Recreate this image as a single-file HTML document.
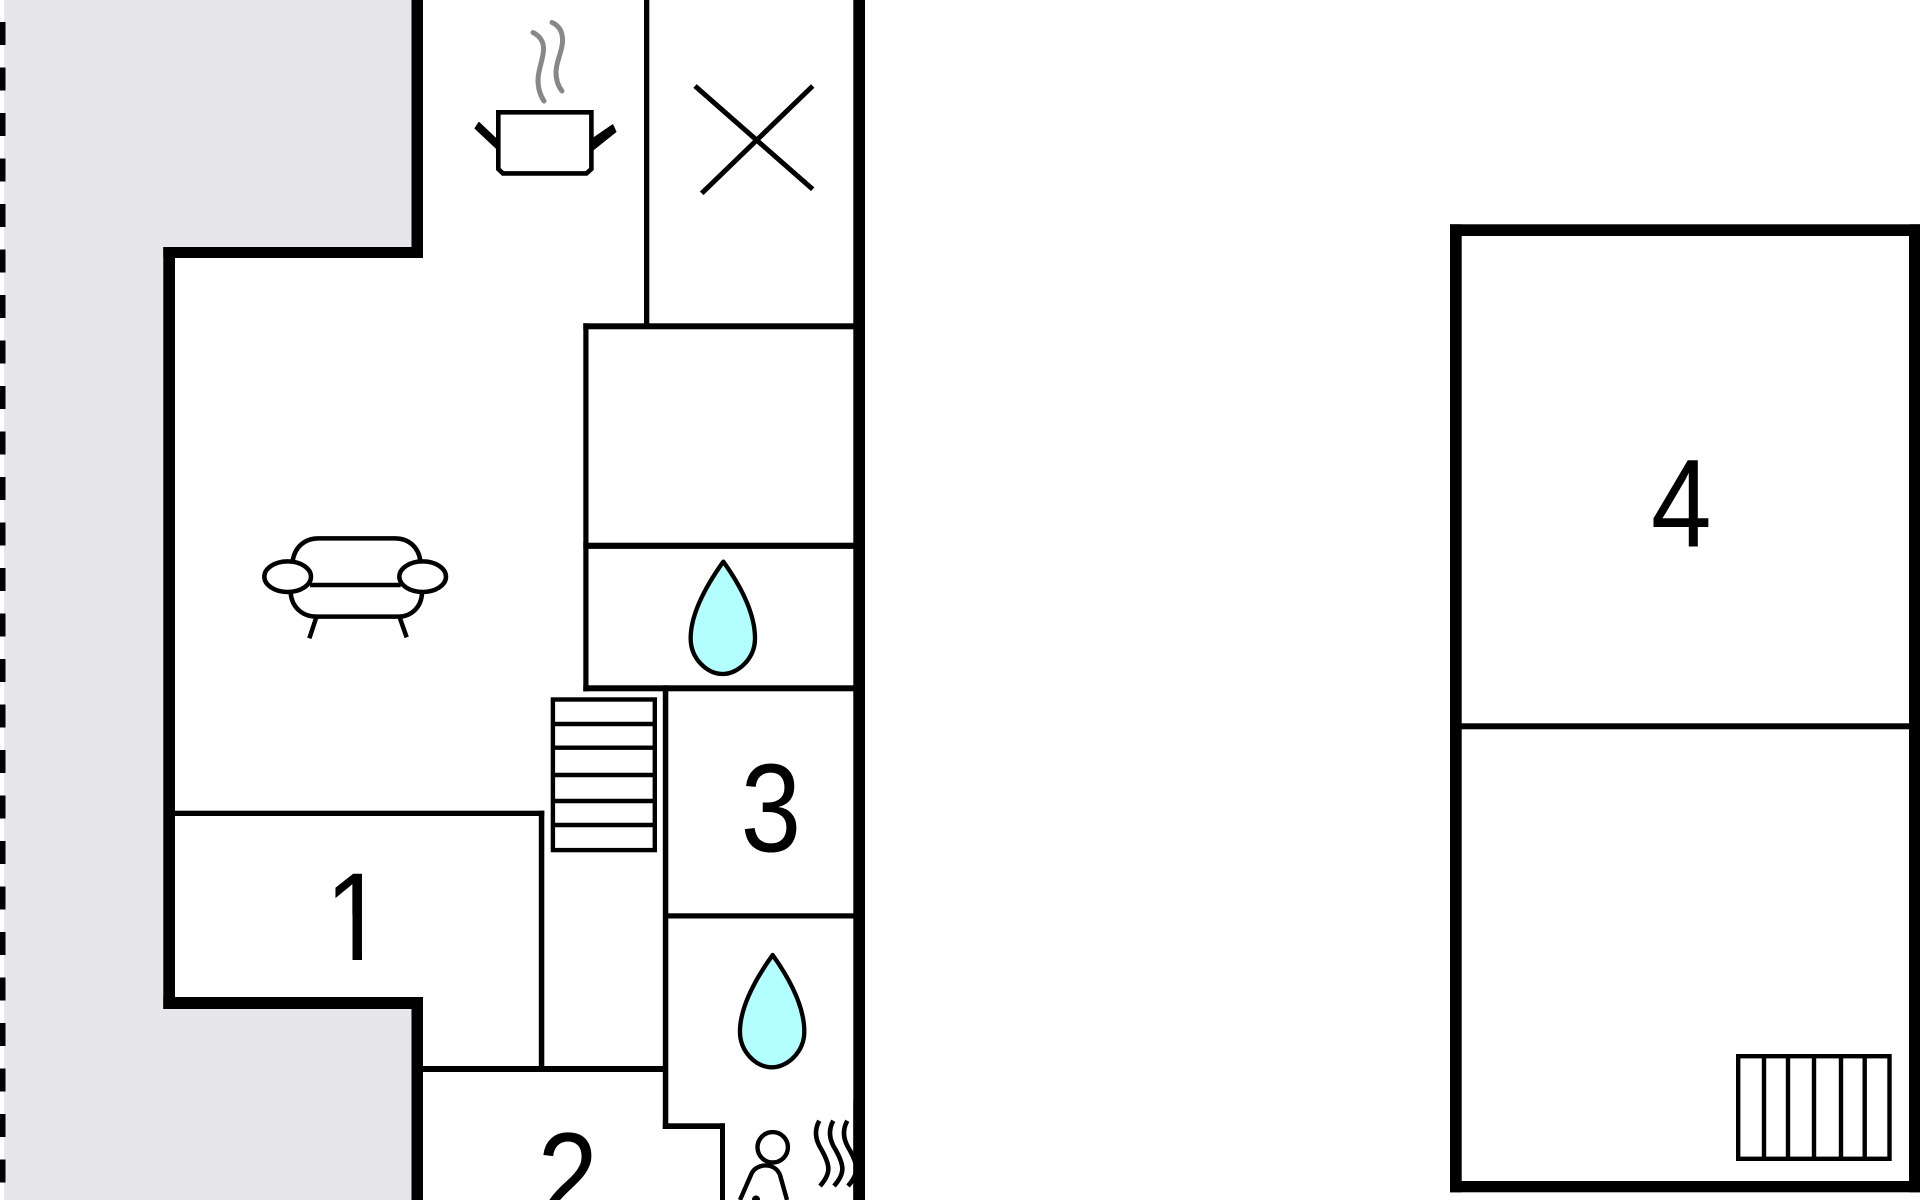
<!DOCTYPE html>
<html>
<head>
<meta charset="utf-8">
<title>Floor plan</title>
<style>
html,body{margin:0;padding:0;background:#fff;width:1920px;height:1200px;overflow:hidden}
svg{display:block}
text{font-family:"Liberation Sans",sans-serif;font-size:128px;fill:#000}
</style>
</head>
<body>
<svg width="1920" height="1200" viewBox="0 0 1920 1200" xmlns="http://www.w3.org/2000/svg">
<defs>
<clipPath id="one"><polygon points="320,860 362,860 362,965 352.5,965 352.5,915 320,915"/></clipPath>
<path id="drop" d="M580,95 C530,165 482,250 482,325 C482,385 530,432 578,432 C625,432 675,385 675,325 C675,250 630,165 580,95 Z" fill="#b3ffff" stroke="#000" stroke-width="13" stroke-linejoin="round"/>
</defs>

<!-- grey neighbouring area -->
<polygon points="4,0 412,0 412,247 164,247 164,997 412,997 412,1200 4,1200" fill="#e6e6eb"/>
<line x1="2.75" y1="22" x2="2.75" y2="1200" stroke="#000" stroke-width="5.5" stroke-dasharray="23 22.5"/>

<!-- thin walls -->
<g fill="#000">
<rect x="644" y="0" width="5.3" height="326"/>
<rect x="583.3" y="323.3" width="272" height="6"/>
<rect x="583.3" y="323.3" width="5.2" height="368"/>
<rect x="583.3" y="542.7" width="272" height="6.2"/>
<rect x="583.3" y="685.3" width="272" height="6"/>
<rect x="662.8" y="685.3" width="5.5" height="443.7"/>
<rect x="668" y="913.3" width="187" height="5.2"/>
<rect x="175" y="810.7" width="369.3" height="5.3"/>
<rect x="538.8" y="810.7" width="5.5" height="261"/>
<rect x="423" y="1066" width="240" height="6"/>
<rect x="662.8" y="1123.3" width="62.2" height="5.7"/>
<rect x="720" y="1123.3" width="5" height="76.7"/>
<rect x="1461" y="723.3" width="449" height="6"/>
</g>

<!-- thick walls -->
<g fill="#000">
<rect x="411.5" y="0" width="11.5" height="258"/>
<rect x="163.3" y="247" width="259.7" height="11"/>
<rect x="163.3" y="247" width="11.7" height="762"/>
<rect x="163.3" y="997" width="259.7" height="12"/>
<rect x="411.5" y="997" width="11.5" height="203"/>
<rect x="853.3" y="0" width="11.7" height="1200"/>
<rect x="1450" y="224.3" width="11.7" height="968"/>
<rect x="1450" y="224.3" width="470" height="11.7"/>
<rect x="1909" y="224.3" width="11" height="968"/>
<rect x="1450" y="1181" width="470" height="11.3"/>
</g>

<!-- pot -->
<g fill="#000" stroke="#000" stroke-width="1.5" stroke-linejoin="round">
<polygon points="475.3,128.3 479,122.7 499,141.7 498.3,150"/>
<polygon points="615.7,131.7 612.7,125 592,139.3 592.7,150"/>
</g>
<path d="M498.3,112.3 H591.4 V169 L586.5,173.4 H503 L498.3,169 Z" fill="#fff" stroke="#000" stroke-width="4.6"/>
<g fill="none" stroke="#888" stroke-width="5" stroke-linecap="round">
<path d="M533,32.5 C540,36 544,42 543.5,50 C543,60 538,70 538,80 C538,88 540,95 544,101"/>
<path d="M552,22.5 C560,26 563,33 562.5,42 C562,52 556,62 556,72 C556,80 558,86 562,91"/>
</g>

<!-- cross -->
<g stroke="#000" stroke-width="5">
<line x1="695" y1="86" x2="812.7" y2="189.3"/>
<line x1="812.7" y1="86" x2="701.7" y2="193.3"/>
</g>

<!-- sofa -->
<g transform="translate(240,510) scale(.33333)" fill="none" stroke="#000" stroke-width="13.5">
<path d="M158,152 C165,110 195,85 235,85 H465 C505,85 535,110 541,152"/>
<ellipse cx="143" cy="200" rx="70" ry="46"/>
<ellipse cx="548" cy="200" rx="70" ry="46"/>
<path d="M210,225 H482"/>
<path d="M152,248 C155,290 185,320 230,320 H475 C515,320 545,290 546,248"/>
<line x1="228" y1="325" x2="208" y2="385"/>
<line x1="480" y1="325" x2="500" y2="382"/>
</g>

<!-- drops -->
<g transform="translate(530,530) scale(.33333)"><use href="#drop"/></g>
<g transform="translate(579.3,923.3) scale(.33333)"><use href="#drop"/></g>

<!-- stairs -->
<g fill="none" stroke="#000" stroke-width="4.4">
<rect x="552.9" y="699.5" width="101.9" height="150.6"/>
<line x1="552" y1="724" x2="656" y2="724"/>
<line x1="552" y1="747.7" x2="656" y2="747.7"/>
<line x1="552" y1="775" x2="656" y2="775"/>
<line x1="552" y1="801" x2="656" y2="801"/>
<line x1="552" y1="825" x2="656" y2="825"/>
</g>

<!-- radiator / stairs right -->
<g fill="none" stroke="#000" stroke-width="4.4">
<rect x="1738.2" y="1056.2" width="151.3" height="102.6"/>
<line x1="1764" y1="1055" x2="1764" y2="1160"/>
<line x1="1788" y1="1055" x2="1788" y2="1160"/>
<line x1="1814" y1="1055" x2="1814" y2="1160"/>
<line x1="1841" y1="1055" x2="1841" y2="1160"/>
<line x1="1864.7" y1="1055" x2="1864.7" y2="1160"/>
</g>

<!-- person -->
<g fill="none" stroke="#000" stroke-width="4.4">
<circle cx="772.7" cy="1147.3" r="15.2"/>
<path d="M740,1200 L751.7,1173.3 C756.7,1163 775,1162 780,1175 L787,1200"/>
</g>
<circle cx="756" cy="1199.5" r="4" fill="#000"/>

<!-- steam -->
<g fill="none" stroke="#000" stroke-width="4.6">
<path d="M819.3,1120.7 C813,1132 816.5,1142 821.7,1150 C830,1165 831.7,1173 820,1186"/>
<path d="M833.3,1120.7 C827,1132 830.5,1142 835.7,1150 C844,1165 845.7,1173 834,1186"/>
<path d="M847.3,1120.7 C841,1132 844.5,1142 849.7,1150 C858,1165 859.7,1173 848,1186"/>
</g>
<rect x="853.3" y="1100" width="11.7" height="100" fill="#000"/>

<!-- labels -->
<g clip-path="url(#one)"><text transform="translate(325,960) scale(.85,.98)">1</text></g>
<text transform="translate(537.5,1220) scale(.85,.98)">2</text>
<text transform="translate(740.6,851.4) scale(.85,.98)">3</text>
<text transform="translate(1651,546.7) scale(.85,.98)">4</text>
</svg>
</body>
</html>
